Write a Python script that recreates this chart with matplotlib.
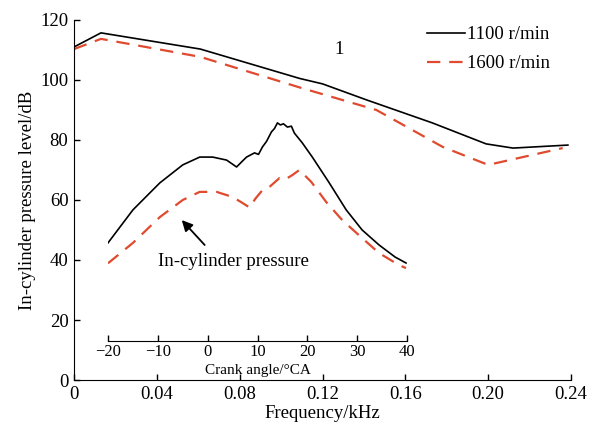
import numpy as np
import matplotlib.pyplot as plt

plt.rcParams['font.family'] = ['Liberation Serif', 'DejaVu Serif']

# Spectrum (main axes)
freq_1100 = [0.0, 0.013, 0.061, 0.109, 0.120, 0.1415, 0.173, 0.199, 0.212, 0.2385]
spl_1100 = [111.0, 115.7, 110.3, 100.5, 98.7, 93.3, 85.7, 78.7, 77.3, 78.3]
freq_1600 = [0.0, 0.013, 0.061, 0.109, 0.146, 0.178, 0.200, 0.236]
spl_1600 = [110.3, 113.7, 107.7, 97.5, 90.0, 77.7, 71.7, 77.3]

# In-cylinder pressure vs crank angle (inset)
ca_1100 = [-20, -15, -9.6, -5, -1.6, 1, 3.8, 5.8, 7, 7.8, 9.4, 10.2, 11, 11.8, 12.8,
           13.4, 14, 14.6, 15.2, 16, 16.8, 17.4, 19, 21, 24.4, 27.8, 31, 34.4, 37.6, 39.8]
p_1100 = [45.7, 56.7, 65.7, 71.7, 74.3, 74.3, 73.3, 71.0, 73.0, 74.3, 75.7, 75.2, 77.7,
          79.5, 82.7, 83.8, 85.7, 85.0, 85.4, 84.3, 84.6, 82.3, 79.0, 74.3, 65.7, 56.7,
          50.0, 45.0, 41.0, 39.0]
ca_1600 = [-20, -15, -9.6, -5, -1.6, 1.8, 5, 7, 8.4, 9.6, 11, 12.5, 14.4, 15.5, 17,
           18.4, 20.8, 23.8, 27, 31, 34.4, 38.4, 39.8]
p_1600 = [38.9, 45.7, 54.3, 60.0, 62.7, 62.7, 61.0, 59.0, 57.5, 60.5, 63.3, 64.5, 67.3,
          66.8, 68.3, 70.0, 66.0, 59.3, 53.3, 47.3, 42.3, 38.3, 37.3]

red = '#e04a2e'
fs = 13.5

fig = plt.figure(figsize=(6.02, 4.34), dpi=100)
ax = fig.add_axes([0.123, 0.1244, 0.8255, 0.8296])

ax.plot(freq_1100, spl_1100, color='black', lw=1.2, label='1100 r/min')
ax.plot(freq_1600, spl_1600, color=red, lw=1.6, dashes=(6, 4), label='1600 r/min')

ax.set_xlim(0, 0.24)
ax.set_ylim(0, 120)
ax.set_xticks([0, 0.04, 0.08, 0.12, 0.16, 0.20, 0.24])
ax.set_xticklabels(['0', '0.04', '0.08', '0.12', '0.16', '0.20', '0.24'])
ax.set_yticks(np.arange(0, 121, 20))
ax.spines['top'].set_visible(False)
ax.spines['right'].set_visible(False)
ax.tick_params(direction='in', length=4, width=1, labelsize=fs, pad=4)
ax.set_xlabel('Frequency/kHz', fontsize=fs, labelpad=2)
ax.set_ylabel('In-cylinder pressure level/dB', fontsize=fs, labelpad=3)

ax.text(0.128, 110, '1', fontsize=fs, ha='center', va='center')

ax.legend(loc='upper left', bbox_to_anchor=(0.677, 1.03), frameon=False,
          fontsize=fs, handlelength=2.0, handletextpad=0.1, labelspacing=0.65)

# inset axis for crank angle curves
ins = ax.inset_axes([0.0164, 0, 0.1444, 120], transform=ax.transData)
ins.patch.set_alpha(0)
ins.plot(ca_1100, p_1100, color='black', lw=1.2)
ins.plot(ca_1600, p_1600, color=red, lw=1.6, dashes=(6, 4))
ins.set_xlim(-20, 40)
ins.set_ylim(0, 120)
ins.set_xticks([-20, -10, 0, 10, 20, 30, 40])
ins.set_xticklabels(['\u221220', '\u221210', '0', '10', '20', '30', '40'])
ins.set_yticks([])
for s in ['top', 'right', 'left']:
    ins.spines[s].set_visible(False)
ins.spines['bottom'].set_position(('data', 13))
ins.tick_params(direction='in', length=4, width=1, labelsize=12, pad=2.5)
ins.text(10, 3.2, 'Crank angle/\u00b0CA', fontsize=11, ha='center', va='center')

ins.text(-10, 39.5, 'In-cylinder pressure', fontsize=fs, ha='left', va='center')
ins.annotate('', xy=(-5.2, 53.3), xytext=(-0.6, 45),
             arrowprops=dict(arrowstyle='-|>', color='black', lw=1.3,
                             mutation_scale=16, shrinkA=0, shrinkB=0))

fig.savefig('out.png', dpi=100)
